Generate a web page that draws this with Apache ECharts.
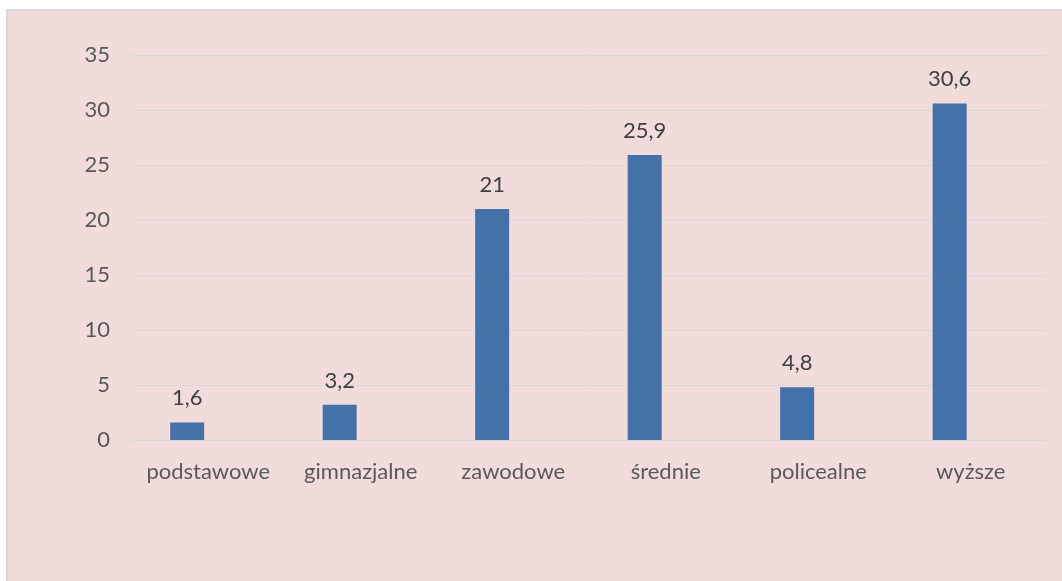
<!DOCTYPE html>
<html><head><meta charset="utf-8">
<script src="https://cdn.jsdelivr.net/npm/echarts@6/dist/echarts.min.js"></script>
<style>
html,body{margin:0;padding:0;background:#fff;overflow:hidden;width:1062px;height:581px;}
#wrap{position:absolute;left:6px;top:9px;width:1060px;height:580px;border-left:2px solid #d9d9d9;border-top:2px solid #d9d9d9;background:#f2dcdb;}
#chart{width:1060px;height:580px;}
</style></head>
<body><div id="wrap"><div id="chart"></div></div>
<script>
const categories = ['podstawowe','gimnazjalne','zawodowe','średnie','policealne','wyższe'];
const values = [1.6, 3.2, 21, 25.9, 4.8, 30.6];
const emptySeries = [null, null, null, null, null, null];
const yTicks = {min: 0, max: 35, interval: 5};

const chart = echarts.init(document.getElementById('chart'));
const font = 'Lato, "Open Sans", sans-serif';
chart.setOption({
  backgroundColor: '#f2dcdb',
  animation: false,
  grid: {left: 124, top: 44, width: 915, height: 385},
  xAxis: {
    type: 'category', data: categories,
    axisLine: {show: true, lineStyle: {color: '#d9d9d9', width: 1}},
    axisTick: {show: false},
    axisLabel: {color: '#595959', fontSize: 22, fontFamily: font, margin: 21, interval: 0, hideOverlap: false}
  },
  yAxis: {
    type: 'value', min: yTicks.min, max: yTicks.max, interval: yTicks.interval,
    axisLine: {show: false}, axisTick: {show: false},
    splitLine: {lineStyle: {color: '#d9d9d9', width: 1}},
    axisLabel: {color: '#595959', fontSize: 22, fontFamily: font, margin: 22}
  },
  series: [
    {type: 'bar', data: values, barWidth: 34, barGap: '24%',
     itemStyle: {color: '#4472a8'},
     label: {show: true, position: 'top', distance: 13, color: '#404040', fontSize: 22, fontFamily: font,
       formatter: p => String(p.value).replace('.', ',')}},
    {type: 'bar', data: emptySeries, barWidth: 34}
  ]
});
</script></body></html>
